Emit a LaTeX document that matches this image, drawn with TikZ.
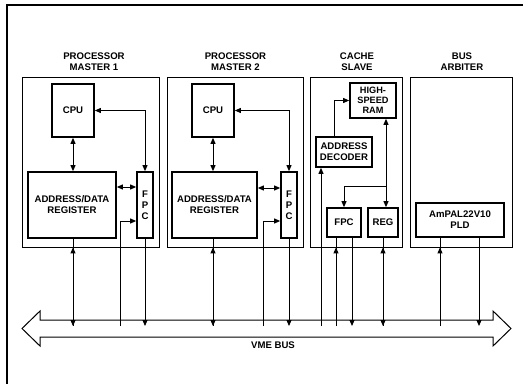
\documentclass[tikz,border=0pt]{standalone}
\usepackage{fontspec}
\setmainfont{Liberation Sans}
\usetikzlibrary{arrows.meta}
\begin{document}
\begin{tikzpicture}[x=1pt,y=-1pt,
  every node/.style={font=\fontsize{9.6}{11}\selectfont\bfseries, align=center, inner sep=0pt},
  cont/.style={draw, line width=0.8pt},
  blk/.style={draw, line width=1.7pt},
  conn/.style={line width=1pt},
  >={Triangle[length=6pt,width=5pt]}]
\useasboundingbox (0,0) rectangle (523,384);
% outer frame (scan cropped at right and bottom)
\draw[line width=1.1pt] (7,384) -- (7,5) -- (523,5);

% bus
\draw[line width=1pt] (40,320) -- (493,320) -- (493,311) -- (511,328.5) -- (493,346) -- (493,337)
  -- (40,337) -- (40,346) -- (22,328.5) -- (40,311) -- cycle;
\coordinate (busE) at (0,326);
\node (vme) at (273,345) {VME BUS};

% titles
\node (t1) at (94,62) {PROCESSOR\\MASTER 1};
\node (t2) at (235.5,62) {PROCESSOR\\MASTER 2};
\node (t3) at (357,62) {CACHE\\SLAVE};
\node (t4) at (462,62) {BUS\\ARBITER};

% containers
\node[cont, minimum width=137pt, minimum height=170pt] (m1) at (90.5,162) {};
\node[cont, minimum width=136pt, minimum height=170pt] (m2) at (235,162) {};
\node[cont, minimum width=92pt, minimum height=170pt] (cs) at (356,162) {};
\node[cont, minimum width=102pt, minimum height=170pt] (ba) at (461,162) {};

% master 1
\node[blk, minimum width=42pt, minimum height=53pt] (cpu1) at (73,110.5) {CPU};
\node[blk, minimum width=88pt, minimum height=66pt] (adr1) at (72,205) {ADDRESS/DATA\\REGISTER};
\node[blk, minimum width=16pt, minimum height=66pt] (fpc1) at (145,205) {F\\P\\C};

% master 2
\node[blk, minimum width=42pt, minimum height=53pt] (cpu2) at (213,110.5) {CPU};
\node[blk, minimum width=85pt, minimum height=66pt] (adr2) at (214.5,205) {ADDRESS/DATA\\REGISTER};
\node[blk, minimum width=16pt, minimum height=66pt] (fpc2) at (289,205) {F\\P\\C};

% cache slave
\node[blk, minimum width=46pt, minimum height=35pt, font=\fontsize{9.2}{10}\selectfont\bfseries] (ram) at (373,100.5) {HIGH-\\SPEED\\RAM};
\node[blk, minimum width=56pt, minimum height=30pt] (dec) at (344,152) {ADDRESS\\DECODER};
\node[blk, minimum width=34pt, minimum height=29pt] (fpc3) at (344,222.5) {FPC};
\node[blk, minimum width=30pt, minimum height=29pt] (reg) at (383,222.5) {REG};

% bus arbiter
\node[blk, minimum width=88pt, minimum height=34pt] (pld) at (460,220) {AmPAL22V10\\PLD};

% ---- connectors, master 1
\draw[conn,<->] (cpu1.east) -| (fpc1.north);
\draw[conn,<->] (cpu1.south) -- (cpu1.south |- adr1.north);
\coordinate (a1) at ([yshift=18pt]adr1.east);
\draw[conn,<->] (a1) -- (a1 -| fpc1.west);
\coordinate (f1in) at ([yshift=-16pt]fpc1.west);
\coordinate (k1) at ([xshift=-16pt]f1in);
\draw[conn,->] (k1 |- busE) -- (k1) -- (f1in);
\draw[conn] (cpu1.south |- adr1.south) -- (cpu1.south |- busE);
\draw[conn,<->] (cpu1.south |- m1.south) -- (cpu1.south |- busE);
\draw[conn,->] (fpc1.south) -- (fpc1.south |- busE);

% ---- connectors, master 2
\draw[conn,<->] (cpu2.east) -| (fpc2.north);
\draw[conn,<->] (cpu2.south) -- (cpu2.south |- adr2.north);
\coordinate (a2) at ([yshift=17pt]adr2.east);
\draw[conn,<->] (a2) -- (a2 -| fpc2.west);
\coordinate (f2in) at ([yshift=-16pt]fpc2.west);
\coordinate (k2) at ([xshift=-17pt]f2in);
\draw[conn,->] (k2 |- busE) -- (k2) -- (f2in);
\draw[conn] (cpu2.south |- adr2.south) -- (cpu2.south |- busE);
\draw[conn,<->] (cpu2.south |- m2.south) -- (cpu2.south |- busE);
\draw[conn,->] (fpc2.south) -- (fpc2.south |- busE);

% ---- connectors, cache slave
\draw[conn,->] ([xshift=-10pt]dec.north) |- (ram.west);
\coordinate (d1) at ([xshift=-23pt]dec.south);
\draw[conn,->] (d1 |- busE) -- (d1);
\coordinate (r1) at ([xshift=13pt]ram.south);
\draw[conn,<->] (r1) -- (r1 |- reg.north);
\coordinate (b0) at ([yshift=21pt]fpc3.north);
\draw[conn,->] (b0 -| r1) -- (b0) -- (fpc3.north);
\coordinate (f3a) at ([xshift=-8pt]fpc3.south);
\draw[conn] (f3a) -- (f3a |- busE);
\draw[conn,->] (f3a |- busE) -- (f3a |- cs.south);
\coordinate (f3b) at ([xshift=8pt]fpc3.south);
\draw[conn,->] (f3b) -- (f3b |- busE);
\draw[conn] (reg.south) -- (reg.south |- busE);
\draw[conn,<->] (reg.south |- cs.south) -- (reg.south |- busE);

% ---- connectors, bus arbiter
\coordinate (p1) at ([xshift=-20pt]pld.south);
\draw[conn] (p1) -- (p1 |- busE);
\draw[conn,->] (p1 |- busE) -- (p1 |- ba.south);
\coordinate (p2) at ([xshift=19pt]pld.south);
\draw[conn,->] (p2) -- (p2 |- busE);
\end{tikzpicture}
\end{document}
